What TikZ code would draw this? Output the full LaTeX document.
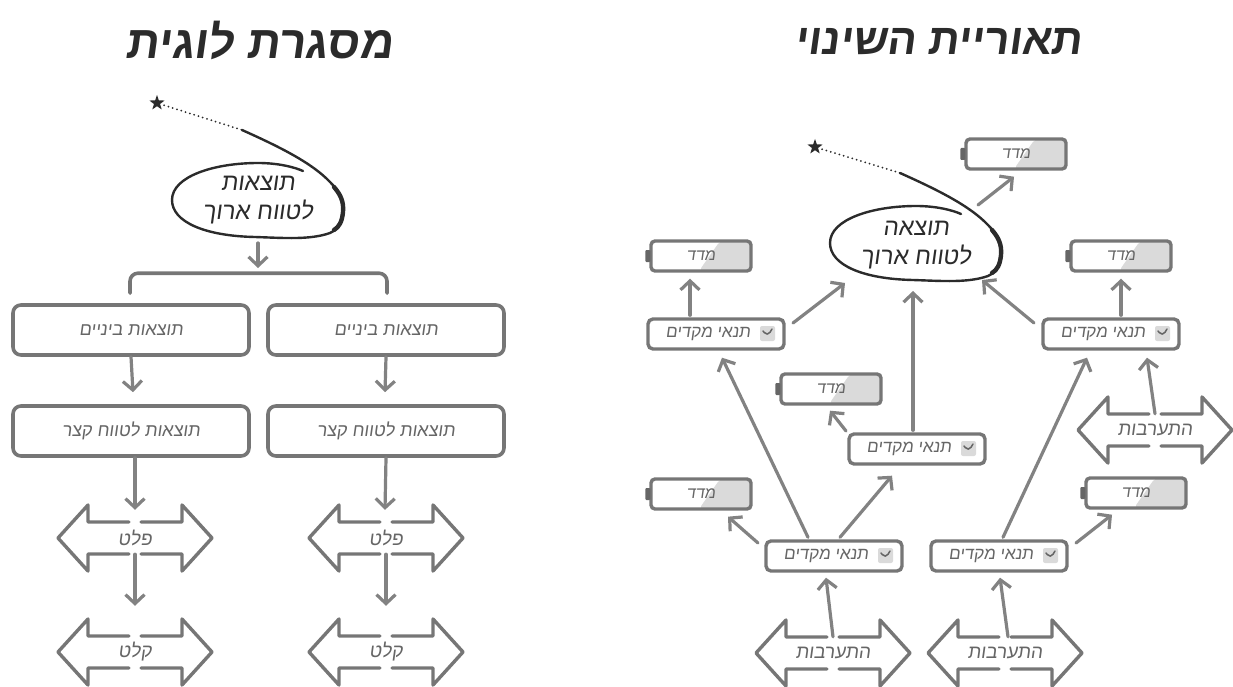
\documentclass[tikz,border=0pt]{standalone}
\usepackage{fontspec}
\newfontfamily\hebfont[Script=Hebrew,FakeSlant=0.14]{Liberation Sans}
\TeXXeTstate=1
\usetikzlibrary{arrows.meta,shapes.geometric,calc}
\newcommand{\rl}[1]{\beginR#1\endR}
\definecolor{ink}{HTML}{2B2B2B}
\definecolor{linegray}{HTML}{767676}
\definecolor{arrgray}{HTML}{828282}
\definecolor{txtgray}{HTML}{666666}
\definecolor{shadegray}{HTML}{DADADA}
\definecolor{nubgray}{HTML}{666666}

% hand-drawn loop around a goal, start point at the origin of the scope
\newcommand{\goalloop}{%
  \draw[loopline] (242,130) .. controls (280,147) and (312,163) .. (330,182)
    .. controls (339,191) and (344,200) .. (343,212)
    .. controls (342,224) and (338,229) .. (330,233)
    .. controls (310,240) and (285,238) .. (255,237)
    .. controls (205,236) and (172,222) .. (172,200)
    .. controls (172,176) and (215,163) .. (258,163)
    .. controls (278,163) and (294,167) .. (303,171);
  \draw[loopline, line width=4.4pt] (334,187)
    .. controls (340,194) and (344,201) .. (343,212)
    .. controls (342,222) and (339,227) .. (334,230);
}

% double-headed block arrow with gaps at top and bottom centre
\newcommand{\dblarrow}[4]{%
  \node[dbltext] (#1) at (#2,#3) {\rl{#4}};
  \begin{scope}[shift={(#2,#3)}]
    \draw[dblline] (-6,-16) -- (-47,-16) -- (-47,-33) -- (-77,0) -- (-47,33) -- (-47,16) -- (-6,16);
    \draw[dblline] (6,-16) -- (47,-16) -- (47,-33) -- (77,0) -- (47,33) -- (47,16) -- (6,16);
  \end{scope}
}

\begin{document}
\begin{tikzpicture}[x=1pt,y=-1pt,
  title/.style={font=\hebfont\bfseries\fontsize{46}{52}\selectfont, text=ink, inner sep=0pt},
  goaltext/.style={font=\hebfont\fontsize{24}{29}\selectfont, text=ink, align=center,
    ellipse, minimum width=172pt, minimum height=74pt, inner sep=0pt},
  bigbox/.style={draw=linegray, line width=3.6pt, rounded corners=8pt, fill=white,
    minimum width=236pt, minimum height=50pt, inner sep=0pt,
    font=\hebfont\fontsize{18}{20}\selectfont, text=txtgray},
  precond/.style={draw=linegray, line width=3.4pt, rounded corners=5pt, fill=white,
    minimum width=136pt, minimum height=30pt, inner sep=0pt,
    font=\hebfont\fontsize{17}{20}\selectfont, text=txtgray,
    path picture={
      \coordinate (ic) at ([shift={(-24,-8)}]path picture bounding box.east);
      \fill[shadegray, rounded corners=2pt] (ic) rectangle ++(15,15);
      \draw[nubgray, line width=1.5pt, line cap=round, line join=round]
        ([shift={(3,5)}]ic) -- ([shift={(7.5,10.5)}]ic) -- ([shift={(12,3)}]ic);
    }},
  indic/.style={draw=linegray, line width=3.4pt, rounded corners=4pt, fill=white,
    minimum width=100pt, minimum height=30pt, inner sep=0pt,
    font=\hebfont\fontsize{16}{18}\selectfont, text=txtgray,
    path picture={
      \fill[shadegray] ([shift={(-31,0)}]path picture bounding box.north east)
        -- (path picture bounding box.north east)
        -- (path picture bounding box.south east)
        -- ([shift={(-52,0)}]path picture bounding box.south east) -- cycle;
    }},
  dbltext/.style={minimum width=154pt, minimum height=32pt, inner sep=0pt,
    font=\hebfont\fontsize{19}{22}\selectfont, text=txtgray},
  dblline/.style={draw=linegray, line width=3.4pt, line join=round, line cap=round},
  arr/.style={draw=arrgray, line width=3.2pt, line cap=round,
    -{Straight Barb[length=9pt,width=19pt]}},
  bracket/.style={draw=linegray, line width=3.6pt, rounded corners=8pt, line cap=round},
  loopline/.style={draw=ink, line width=2.4pt, line cap=round},
  dots/.style={draw=ink, line width=2pt, line cap=round, dash pattern=on 0pt off 4.5pt},
  starmark/.style={star, star points=5, star point ratio=2.5, fill=ink,
    minimum size=16pt, inner sep=0pt},
]
\useasboundingbox (0,0) rectangle (1233,687);

% ---------- titles ----------
\node[title] (t1) at (259,40) {\rl{מסגרת לוגית}};
\node[title, font=\hebfont\bfseries\fontsize{43}{49}\selectfont] (t2) at (938,42) {\rl{תאוריית השינוי}};

% ---------- logical framework ----------
\node[starmark] (s1) at (157,103) {};
\coordinate (g1a) at (242,130);
\draw[dots, shorten <=4pt] (s1) -- (g1a);
\goalloop
\node[goaltext] (g1) at (258,200) {\rl{תוצאות}\\\rl{לטווח ארוך}};

\node[bigbox] (im1) at (131,330) {\rl{תוצאות ביניים}};
\node[bigbox] (im2) at (386,330) {\rl{תוצאות ביניים}};
\node[bigbox] (st1) at (131,431) {\rl{תוצאות לטווח קצר}};
\node[bigbox] (st2) at (386,431) {\rl{תוצאות לטווח קצר}};

\coordinate (brk) at (258,274);
\draw[arr] ([shift={(0,43)}]g1.center) -- ([shift={(0,-6)}]brk);
\draw[bracket] ([shift={(-1,-10)}]im1.north) -- ([shift={(-1,-30)}]im1.north)
  -- ([shift={(1,-30)}]im2.north) -- ([shift={(1,-10)}]im2.north);

\dblarrow{out1}{135}{538}{פלט}
\dblarrow{out2}{386}{538}{פלט}
\dblarrow{in1}{135}{652}{קלט}
\dblarrow{in2}{386}{652}{קלט}

\draw[arr] (im1.south) -- ([shift={(2,-12)}]st1.north);
\draw[arr] (im2.south) -- ([shift={(-1,-12)}]st2.north);
\draw[arr] ([shift={(4,0)}]st1.south) -- ([shift={(0,-12)}]out1.north);
\draw[arr] (st2.south) -- ([shift={(-1,-12)}]out2.north);
\draw[arr] (out1.south) -- ([shift={(0,-30)}]in1.north);
\draw[arr] (out2.south) -- ([shift={(0,-30)}]in2.north);

% ---------- theory of change ----------
\node[starmark] (s2) at (815,147) {};
\coordinate (g2a) at (900,173);
\draw[dots, shorten <=4pt] (s2) -- (g2a);
\begin{scope}[shift={(658,43)}]
  \goalloop
\end{scope}
\node[goaltext] (g2) at (916,245) {\rl{תוצאה}\\\rl{לטווח ארוך}};

\node[indic] (iTop) at (1016,154) {\rl{מדד}};
\node[indic] (iA) at (701,256) {\rl{מדד}};
\node[indic] (iB) at (1121,256) {\rl{מדד}};
\node[indic] (iM) at (831,389) {\rl{מדד}};
\node[indic] (iD) at (701,494) {\rl{מדד}};
\node[indic] (iE) at (1136,493) {\rl{מדד}};
\foreach \n in {iTop,iA,iB,iM,iD,iE}
  \fill[nubgray, rounded corners=1pt] ([shift={(-4,-6)}]\n.west) rectangle ([shift={(1,6)}]\n.west);

\node[precond] (pA) at (716,334) {\rl{תנאי מקדים}\hspace*{16pt}};
\node[precond] (pB) at (1111,334) {\rl{תנאי מקדים}\hspace*{16pt}};
\node[precond] (pC) at (917,449) {\rl{תנאי מקדים}\hspace*{16pt}};
\node[precond] (pD) at (834,556) {\rl{תנאי מקדים}\hspace*{16pt}};
\node[precond] (pE) at (999,556) {\rl{תנאי מקדים}\hspace*{16pt}};

\dblarrow{intR}{1155}{430}{התערבות}
\dblarrow{intL}{833}{653}{התערבות}
\dblarrow{intM}{1005}{653}{התערבות}

\draw[arr] ([shift={(62,-40)}]g2.center) -- ([shift={(-2,6)}]iTop.south);
\draw[arr] ([shift={(-26,-2)}]pA.north) -- ([shift={(-11,6)}]iA.south);
\draw[arr] ([shift={(77,-11)}]pA.center) -- ([shift={(-71,38)}]g2.center);
\draw[arr] ([shift={(-4,-2)}]pC.north) -- ([shift={(-3,46)}]g2.center);
\draw[arr] ([shift={(-77,-11)}]pB.center) -- ([shift={(66,35)}]g2.center);
\draw[arr] ([shift={(10,-2)}]pB.north) -- ([shift={(0,6)}]iB.south);
\draw[arr] ([shift={(-76,-13)}]pD.center) -- ([shift={(27,6)}]iD.south);
\draw[arr] ([shift={(-26,-2)}]pD.north) -- ([shift={(6,7)}]pA.south);
\draw[arr] ([shift={(6,-2)}]pD.north) -- ([shift={(-25,10)}]pC.south);
\draw[arr] ([shift={(-71,-18)}]pC.center) -- ([shift={(-1,5)}]iM.south);
\draw[arr] ([shift={(4,-2)}]pE.north) -- ([shift={(-24,7)}]pB.south);
\draw[arr] ([shift={(77,-13)}]pE.center) -- ([shift={(-24,5)}]iE.south);
\draw[arr] (intR.north) -- ([shift={(36,7)}]pB.south);
\draw[arr] (intL.north) -- ([shift={(-8,5)}]pD.south);
\draw[arr] ([shift={(3,0)}]intM.north) -- ([shift={(1,5)}]pE.south);

\end{tikzpicture}
\end{document}
